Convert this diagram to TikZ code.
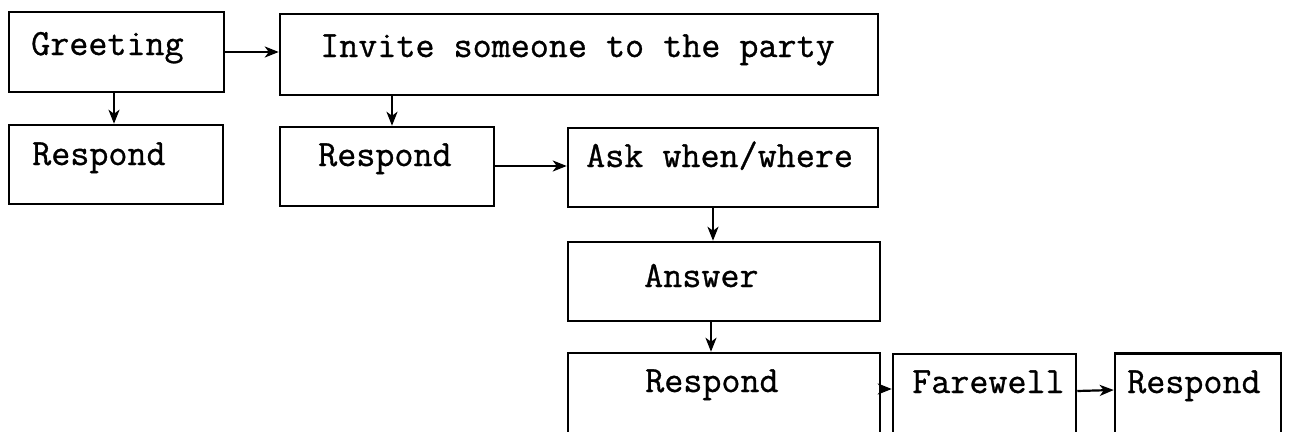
\documentclass[tikz,border=0pt]{standalone}
\usepackage{fontspec}
\newfontfamily\twfont{Latin Modern Mono}[FakeBold=0.8]
\usetikzlibrary{arrows.meta}
\begin{document}
\begin{tikzpicture}[x=1pt,y=-1pt,
  box/.style={draw=black, line width=2.5pt, rectangle, inner sep=0pt, minimum height=79pt},
  lbl/.style={anchor=base west, inner sep=0pt, font=\twfont\fontsize{37}{44}\selectfont},
  arr/.style={draw=black, line width=2.2pt, -{Stealth[length=14pt,width=11pt,inset=4pt]}}]
\useasboundingbox (0,0) rectangle (1289,431);
\clip (0,0) rectangle (1289,431);
% boxes
\node[box, minimum width=215pt, minimum height=80pt] (g)   at (116.5,52) {};
\node[box, minimum width=598pt, minimum height=81pt] (inv) at (579,54.5) {};
\node[box, minimum width=214pt] (r1)  at (116,164.5) {};
\node[box, minimum width=214pt] (r2)  at (387,166.5) {};
\node[box, minimum width=310pt] (ask) at (723,167.5) {};
\node[box, minimum width=312pt] (ans) at (724,281.5) {};
\node[box, minimum width=312pt, minimum height=107pt] (r3) at (724,406.5) {};
\node[box, minimum width=183pt, minimum height=107pt] (fw) at (984.5,407.5) {};
\node[box, minimum width=166pt, minimum height=107pt] (r4) at (1198,407) {};
% labels
\node[lbl] (tg)   at (31,55)   {Greeting};
\node[lbl] (tinv) at (320,57)  {Invite someone to the party};
\node[lbl] (tr1)  at (32,165)  {Respond};
\node[lbl] (tr2)  at (318,166) {Respond};
\node[lbl] (task) at (586,167) {Ask when/where};
\node[lbl] (tans) at (644,287) {Answer};
\node[lbl] (tr3)  at (645,392) {Respond};
\node[lbl] (tfw)  at (912,393) {Farewell};
\node[lbl] (tr4)  at (1127,393) {Respond};
% connectors
\draw[arr] (g.east |- 0,52) -- (inv.west |- 0,52);
\draw[arr] (g.south -| 114,0) -- (r1.north -| 114,0);
\draw[arr] (inv.south -| 392,0) -- (r2.north -| 392,0);
\draw[arr] (r2.east |- 0,166) -- (ask.west |- 0,166);
\draw[arr] (ask.south -| 713,0) -- (ans.north -| 713,0);
\draw[arr] (ans.south -| 711,0) -- (r3.north -| 711,0);
\draw[arr] (r3.east |- 0,389) -- (fw.west |- 0,389);
\draw[arr] (fw.east |- 0,391) -- (r4.west |- 0,390);
\end{tikzpicture}
\end{document}
